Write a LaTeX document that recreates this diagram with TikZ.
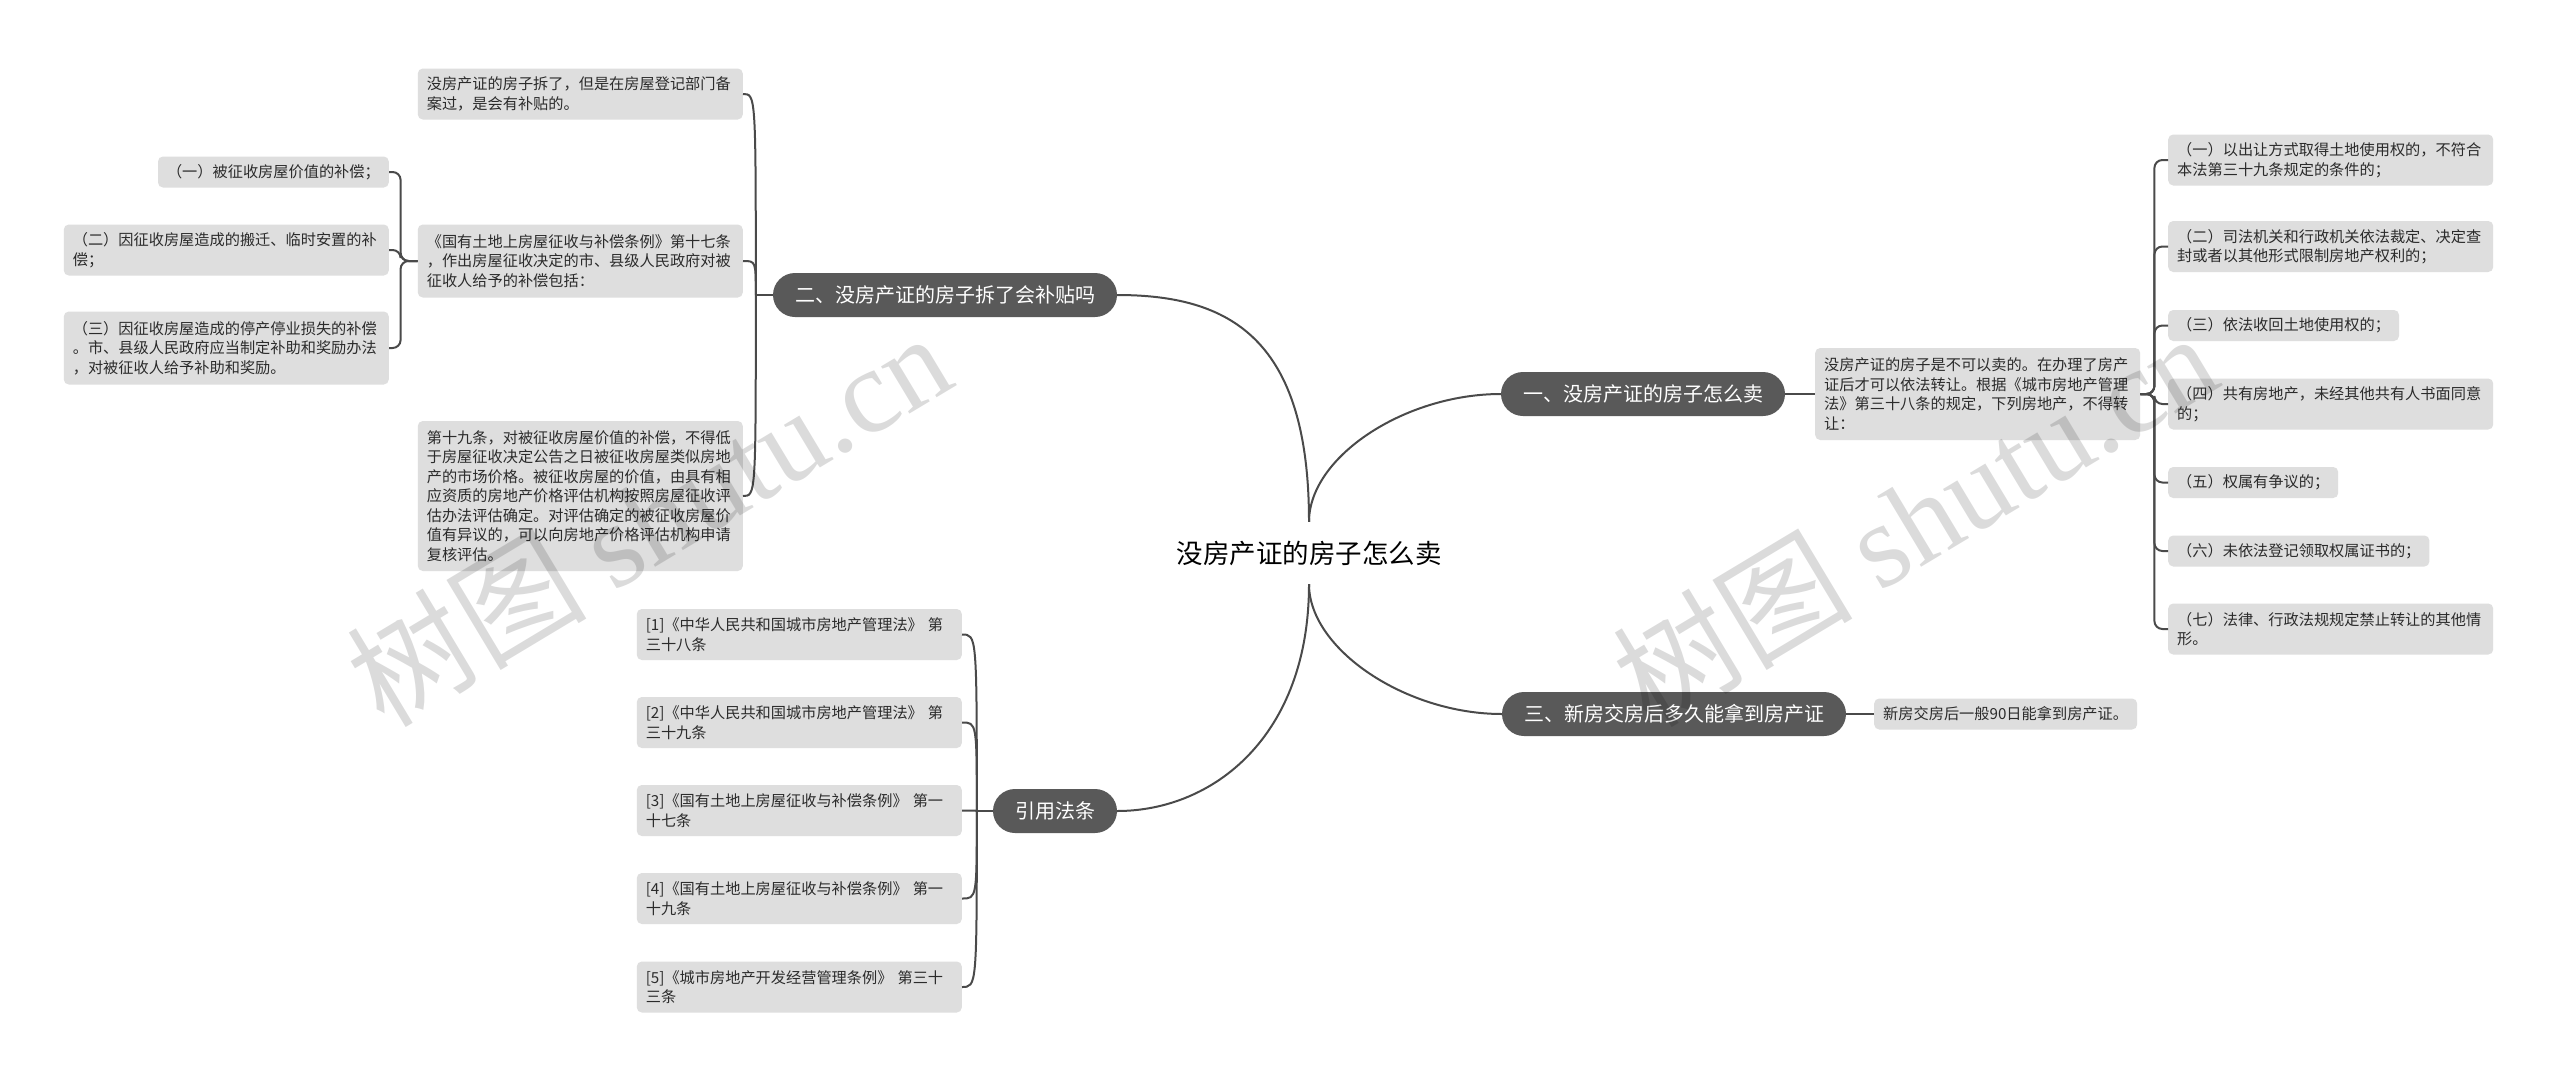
\documentclass[tikz,border=0pt]{standalone}
\usepackage{fontspec}
\setmainfont{Noto Sans CJK SC}
\newfontfamily\wmlatin{Liberation Serif}
\usetikzlibrary{calc}
\definecolor{linec}{HTML}{4A4A4A}
\definecolor{branchc}{HTML}{595959}
\definecolor{leafc}{HTML}{DEDEDE}
\definecolor{textc}{HTML}{2B2B2B}
\tikzset{
  conn/.style={draw=linec, line width=2pt},
  rootnode/.style={text=black, inner sep=0pt, minimum height=62pt, font=\fontsize{26.5}{30}\selectfont},
  branch/.style={fill=branchc, text=white, rounded corners=22pt, minimum height=44pt, inner xsep=22pt, inner ysep=0pt, font=\fontsize{20}{24}\selectfont},
  leaf/.style={fill=leafc, text=textc, rounded corners=5pt, inner xsep=9pt, inner ysep=2pt, align=left, font=\fontsize{15.2}{19.5}\selectfont},
  wide/.style={text width=307pt},
  lone/.style={minimum height=31pt},
  ltwo/.style={minimum height=51pt},
  lthree/.style={minimum height=73pt},
  lfour/.style={minimum height=92pt},
  lseven/.style={minimum height=150pt},
  wm/.style={text=black, text opacity=0.14, inner sep=0pt, font=\fontsize{120}{120}\selectfont}
}
\begin{document}
\begin{tikzpicture}[x=1pt, y=-1pt]
\fill[white] (0,0) rectangle (2560,1082);
\useasboundingbox (0,0) rectangle (2560,1082);

% root and branches
\node[rootnode] (root) at (1309,553) {没房产证的房子怎么卖};
\node[branch] (b1) at (1643,394) {一、没房产证的房子怎么卖};
\node[branch] (b2) at (945,295) {二、没房产证的房子拆了会补贴吗};
\node[branch] (b3) at (1674,714) {三、新房交房后多久能拿到房产证};
\node[branch] (b4) at (1055,811) {引用法条};

\draw[conn] (root.north) .. controls ($(root.north)+(0,-65)$) and ($(b1.west)+(-96,0)$) .. (b1.west);
\draw[conn] (root.north) .. controls ($(root.north)+(0,-183)$) and ($(b2.east)+(113,0)$) .. (b2.east);
\draw[conn] (root.south) .. controls ($(root.south)+(0,65)$) and ($(b3.west)+(-96,0)$) .. (b3.west);
\draw[conn] (root.south) .. controls ($(root.south)+(0,152)$) and ($(b4.east)+(96,0)$) .. (b4.east);

% branch 1
\node[leaf, wide, lfour, anchor=west] (d1) at (1815,394) {没房产证的房子是不可以卖的。在办理了房产\\证后才可以依法转让。根据《城市房地产管理\\法》第三十八条的规定，下列房地产，不得转\\让：};
\draw[conn] (b1.east) -- (d1.west);

\node[leaf, wide, ltwo, anchor=west] (r1) at (2168,160) {（一）以出让方式取得土地使用权的，不符合\\本法第三十九条规定的条件的；};
\node[leaf, wide, ltwo, anchor=west] (r2) at (2168,246.5) {（二）司法机关和行政机关依法裁定、决定查\\封或者以其他形式限制房地产权利的；};
\node[leaf, lone, anchor=west] (r3) at (2168,325.5) {（三）依法收回土地使用权的；};
\node[leaf, wide, ltwo, anchor=west] (r4) at (2168,404) {（四）共有房地产，未经其他共有人书面同意\\的；};
\node[leaf, lone, anchor=west] (r5) at (2168,482.5) {（五）权属有争议的；};
\node[leaf, lone, anchor=west] (r6) at (2168,551) {（六）未依法登记领取权属证书的；};
\node[leaf, wide, ltwo, anchor=west] (r7) at (2168,629) {（七）法律、行政法规规定禁止转让的其他情\\形。};
\coordinate (p1) at ($(d1.east)+(14,0)$);
\foreach \n in {r1,r2,r3,r4,r5,r6,r7}
  \draw[conn, rounded corners=8pt] (d1.east) -- (p1) |- (\n.west);

% branch 3
\node[leaf, lone, anchor=west] (e1) at (1874,714) {新房交房后一般90日能拿到房产证。};
\draw[conn] (b3.east) -- (e1.west);

% branch 2
\node[leaf, wide, ltwo, anchor=east] (a1) at (743,94) {没房产证的房子拆了，但是在房屋登记部门备\\案过，是会有补贴的。};
\node[leaf, wide, lthree, anchor=east] (a2) at (743,261) {《国有土地上房屋征收与补偿条例》第十七条\\，作出房屋征收决定的市、县级人民政府对被\\征收人给予的补偿包括：};
\node[leaf, wide, lseven, anchor=east] (a3) at (743,496) {第十九条，对被征收房屋价值的补偿，不得低\\于房屋征收决定公告之日被征收房屋类似房地\\产的市场价格。被征收房屋的价值，由具有相\\应资质的房地产价格评估机构按照房屋征收评\\估办法评估确定。对评估确定的被征收房屋价\\值有异议的，可以向房地产价格评估机构申请\\复核评估。};
\coordinate (p2) at ($(b2.west)+(-17,0)$);
\draw[conn] (b2.west) -- (p2);
\foreach \n in {a1,a2,a3}
  \draw[conn] (p2) .. controls (p2 |- \n.east) .. (\n.east);

\node[leaf, lone, anchor=east] (s1) at (389,172) {（一）被征收房屋价值的补偿；};
\node[leaf, wide, ltwo, anchor=east] (s2) at (389,250) {（二）因征收房屋造成的搬迁、临时安置的补\\偿；};
\node[leaf, wide, lthree, anchor=east] (s3) at (389,348) {（三）因征收房屋造成的停产停业损失的补偿\\。市、县级人民政府应当制定补助和奖励办法\\，对被征收人给予补助和奖励。};
\coordinate (p3) at ($(a2.west)+(-17,0)$);
\foreach \n in {s1,s2,s3}
  \draw[conn, rounded corners=8pt] (a2.west) -- (p3) |- (\n.east);

% branch 4
\node[leaf, wide, ltwo, anchor=east] (c1) at (962,634.5) {[1]《中华人民共和国城市房地产管理法》 第\\三十八条};
\node[leaf, wide, ltwo, anchor=east] (c2) at (962,722.5) {[2]《中华人民共和国城市房地产管理法》 第\\三十九条};
\node[leaf, wide, ltwo, anchor=east] (c3) at (962,810.5) {[3]《国有土地上房屋征收与补偿条例》 第一\\十七条};
\node[leaf, wide, ltwo, anchor=east] (c4) at (962,898.5) {[4]《国有土地上房屋征收与补偿条例》 第一\\十九条};
\node[leaf, wide, ltwo, anchor=east] (c5) at (962,987) {[5]《城市房地产开发经营管理条例》 第三十\\三条};
\coordinate (p4) at ($(b4.west)+(-16,0)$);
\draw[conn] (b4.west) -- (p4);
\foreach \n in {c1,c2,c3,c4,c5}
  \draw[conn] (p4) .. controls (p4 |- \n.east) .. (\n.east);

% watermarks
\node[wm, rotate=31] (w1) at (648,518) {树图 {\wmlatin shutu.cn}};
\node[wm, rotate=31] (w2) at (1914,518) {树图 {\wmlatin shutu.cn}};
\end{tikzpicture}
\end{document}
